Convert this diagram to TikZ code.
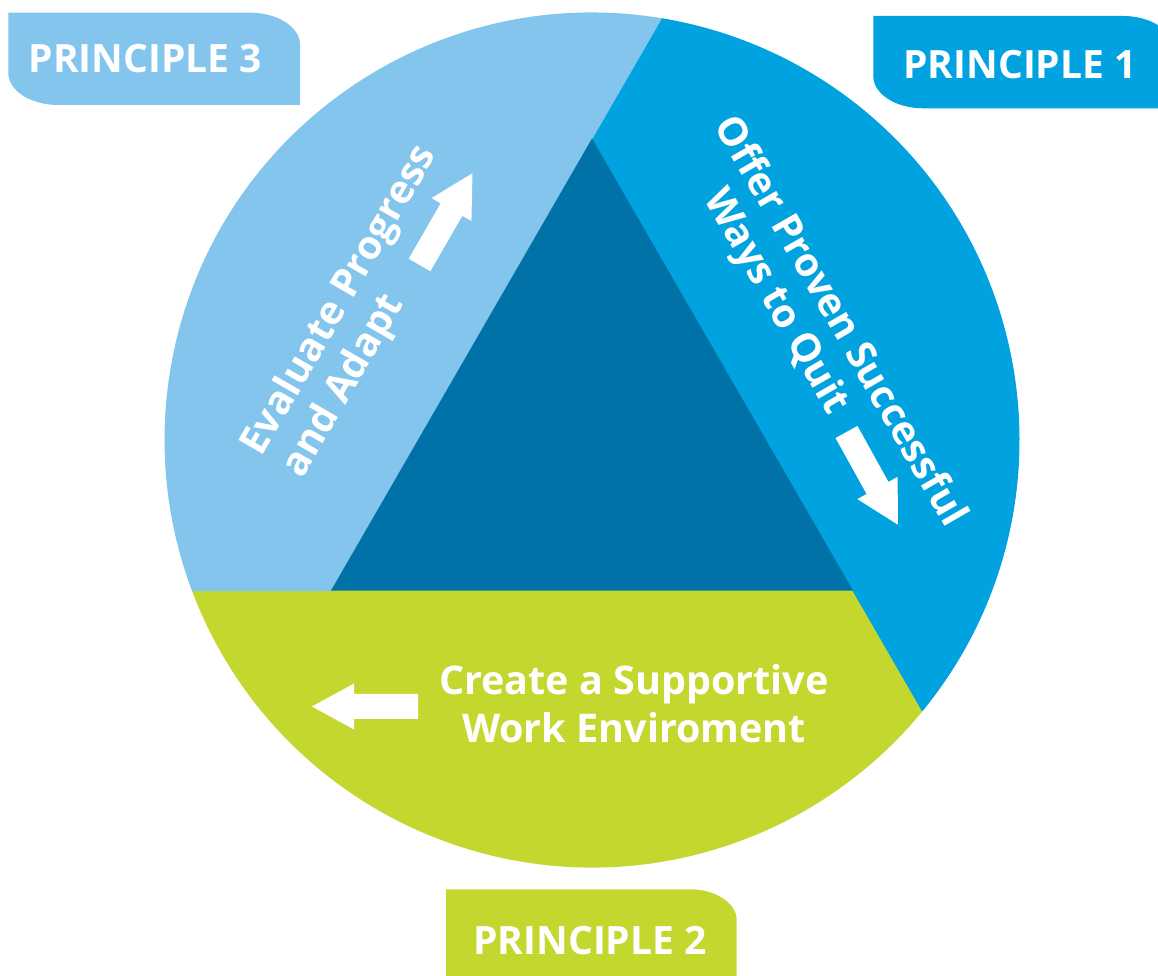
\documentclass[tikz,border=0pt]{standalone}
\usepackage{fontspec}
\setmainfont{Open Sans}
\usepackage{tikz}
\usetikzlibrary{calc}

\definecolor{paleblue}{HTML}{83C5EC}
\definecolor{midblue}{HTML}{00A2DF}
\definecolor{deepblue}{HTML}{0072A7}
\definecolor{limegreen}{HTML}{C4D72F}

\tikzset{pics/white arrow/.style={code={
	\fill[white] (0,-12.5) -- (64,-12.5) -- (64,-23) -- (106,0)
		-- (64,23) -- (64,12.5) -- (0,12.5) -- cycle;}}}

\begin{document}
\begin{tikzpicture}[x=1pt,y=1pt,
			region/.style={line width=1pt},
			tab text/.style={text=white,inner sep=0pt,
				font=\fontsize{39}{47}\selectfont\bfseries},
			area text/.style={text=white,inner sep=0pt,
				font=\fontsize{39.5}{47}\selectfont\bfseries}]
			\useasboundingbox (0,0) rectangle (1158,976);
			
			\coordinate (centre) at (592,536);
			\coordinate (top) at ($(centre)+(90:301.5)$);
			\coordinate (left) at ($(centre)+(210:301.5)$);
			\coordinate (right) at ($(centre)+(330:301.5)$);
			\coordinate (rim2) at ($(centre)+(200.67:427)$);
			\coordinate (rim1) at ($(centre)+(320.67:427)$);
			\coordinate (rim3) at ($(centre)+(80.67:427)$);
			
			\filldraw[region,limegreen] (rim2) arc[start angle=200.67,end angle=320.67,radius=427pt]
				-- (right) -- cycle;
			\filldraw[region,midblue] (rim1) arc[start angle=320.67,end angle=440.67,radius=427pt]
				-- (top) -- (right) -- cycle;
			\filldraw[region,paleblue] (rim3) arc[start angle=80.67,end angle=200.67,radius=427pt]
				-- (left) -- cycle;
			\fill[deepblue] (top) -- (left) -- (right) -- cycle;
			
			\fill[paleblue] (8.3,963.3) -- (250,963.3) arc[start angle=90,end angle=0,x radius=50,y radius=32]
				-- (300,871) -- (58.3,871) arc[start angle=270,end angle=180,x radius=50,y radius=32] -- cycle;
			\fill[midblue] (873.3,960) -- (1123,960) arc[start angle=90,end angle=0,x radius=50,y radius=32]
				-- (1173,867.7) -- (923.3,867.7) arc[start angle=270,end angle=180,x radius=50,y radius=32] -- cycle;
			\fill[limegreen] (446,86.7) -- (690,86.7) arc[start angle=90,end angle=0,x radius=46.7,y radius=31]
				-- (736.7,-10) -- (446,-10) -- cycle;
			
			\node[tab text,anchor=base] (principle3) at (145.3,903) {PRINCIPLE 3};
			\node[tab text,anchor=base] (principle1) at (1020,897.7) {PRINCIPLE 1};
			\node[tab text,anchor=base] (principle2) at (590,21) {PRINCIPLE 2};
			
			\node[area text,rotate=60,anchor=base west] (evaluate) at (261.8,518.4) {Evaluate Progress};
			\node[area text,rotate=60,anchor=base west] (adapt) at (302.5,496.4) {and Adapt};
			\node[area text,rotate=-60,anchor=base west] (offer) at (713.4,850.2) {Offer Proven Successful};
			\node[area text,rotate=-60,anchor=base west] (ways) at (703.3,777.7) {Ways to Quit};
			\node[area text,anchor=base] (create) at (634,281.7) {Create a Supportive};
			\node[area text,anchor=base] (work) at (634,233.7) {Work Enviroment};
			
			\pic[rotate=60] at (419.5,711) {white arrow};
			\pic[rotate=-61] at (846.5,544) {white arrow};
			\pic[rotate=180] at (418,269.5) {white arrow};
		\end{tikzpicture}
\end{document}
